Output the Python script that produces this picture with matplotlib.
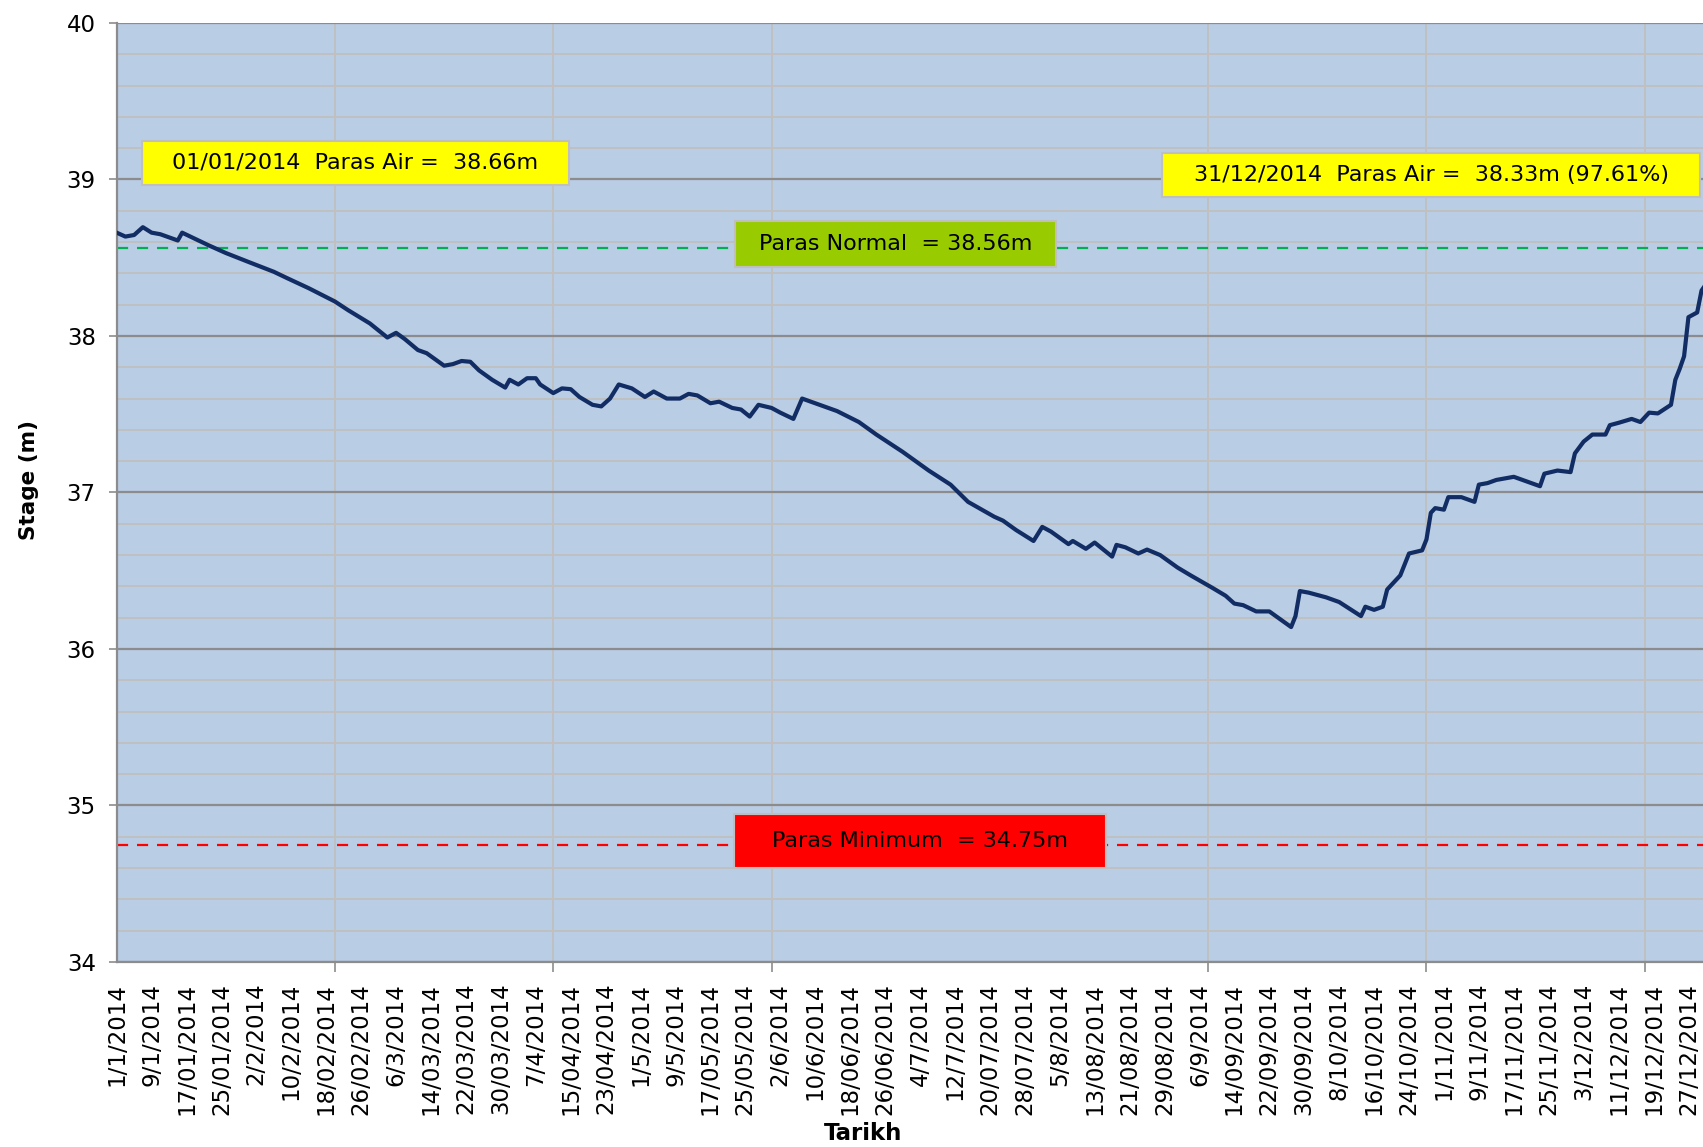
import matplotlib
matplotlib.use('Agg')
import matplotlib.pyplot as plt
import matplotlib.transforms as mtransforms
from matplotlib.patches import Rectangle
from matplotlib.ticker import MultipleLocator

# daily readings (day of year, 0 = 1/1/2014) and water stage in metres
day = [0, 2, 4, 6, 8, 10, 14, 15, 18, 21, 25, 30, 36, 39, 44, 50, 53, 58, 62, 64,
       66, 69, 71, 75, 77, 79, 81, 83, 86, 89, 90, 92, 94, 96, 97, 100, 102, 104, 106, 109,
       111, 113, 115, 118, 121, 123, 126, 129, 131, 133, 136, 138, 141, 143, 145, 147, 150, 152, 155, 157,
       160, 165, 170, 174, 180, 186, 191, 195, 201, 203, 206, 210, 212, 214, 218, 219, 222, 224, 228, 229,
       231, 234, 236, 239, 243, 246, 251, 254, 256, 258, 261, 264, 266, 269, 270, 271, 273, 277, 280, 285,
       286, 288, 290, 291, 294, 296, 299, 300, 301, 302, 304, 305, 308, 311, 312, 314, 316, 318, 320, 323,
       326, 327, 330, 333, 334, 336, 338, 341, 342, 344, 347, 349, 351, 353, 356, 357, 358, 359, 360, 362,
       363, 364]
stage = [38.66, 38.635, 38.645, 38.695, 38.66, 38.65, 38.61, 38.66, 38.62, 38.58, 38.53, 38.475, 38.41, 38.37, 38.305, 38.22, 38.165, 38.08, 37.99, 38.02,
         37.98, 37.91, 37.89, 37.81, 37.82, 37.84, 37.835, 37.78, 37.72, 37.67, 37.72, 37.69, 37.73, 37.73, 37.69, 37.635, 37.665, 37.66, 37.61, 37.56,
         37.55, 37.60, 37.69, 37.665, 37.61, 37.645, 37.60, 37.60, 37.63, 37.62, 37.57, 37.58, 37.54, 37.53, 37.485, 37.56, 37.54, 37.51, 37.47, 37.60,
         37.57, 37.52, 37.45, 37.37, 37.26, 37.14, 37.05, 36.94, 36.845, 36.82, 36.76, 36.69, 36.78, 36.75, 36.67, 36.69, 36.64, 36.68, 36.59, 36.665,
         36.65, 36.61, 36.635, 36.60, 36.52, 36.47, 36.39, 36.34, 36.29, 36.28, 36.24, 36.24, 36.20, 36.14, 36.21, 36.37, 36.36, 36.33, 36.30, 36.21,
         36.27, 36.25, 36.27, 36.38, 36.47, 36.61, 36.63, 36.70, 36.87, 36.90, 36.89, 36.97, 36.97, 36.94, 37.05, 37.06, 37.08, 37.09, 37.10, 37.07,
         37.04, 37.12, 37.14, 37.13, 37.25, 37.325, 37.37, 37.37, 37.43, 37.445, 37.47, 37.45, 37.51, 37.505, 37.56, 37.72, 37.79, 37.87, 38.12, 38.15,
         38.29, 38.33]

paras_normal = 38.56
paras_minimum = 34.75

date_labels = ['1/1/2014', '9/1/2014', '17/01/2014', '25/01/2014', '2/2/2014', '10/2/2014',
               '18/02/2014', '26/02/2014', '6/3/2014', '14/03/2014', '22/03/2014', '30/03/2014',
               '7/4/2014', '15/04/2014', '23/04/2014', '1/5/2014', '9/5/2014', '17/05/2014',
               '25/05/2014', '2/6/2014', '10/6/2014', '18/06/2014', '26/06/2014', '4/7/2014',
               '12/7/2014', '20/07/2014', '28/07/2014', '5/8/2014', '13/08/2014', '21/08/2014',
               '29/08/2014', '6/9/2014', '14/09/2014', '22/09/2014', '30/09/2014', '8/10/2014',
               '16/10/2014', '24/10/2014', '1/11/2014', '9/11/2014', '17/11/2014', '25/11/2014',
               '3/12/2014', '11/12/2014', '19/12/2014', '27/12/2014']

fig = plt.figure(figsize=(17.03, 11.47), dpi=100)
ax = fig.add_axes([0.0685, 0.1613, 0.9332, 0.8187])
ax.set_facecolor('#B9CDE5')

ax.set_xlim(0, 364)
ax.set_ylim(34, 40)

# grid: 1 m major lines, 0.2 m minor lines, a vertical line every 50 days
ax.yaxis.set_major_locator(MultipleLocator(1))
ax.yaxis.set_minor_locator(MultipleLocator(0.2))
ax.grid(which='major', axis='y', color='#8C8C8C', lw=1.6, zorder=1)
ax.grid(which='minor', axis='y', color='#C0C0C0', lw=1.4, zorder=1)

ax.set_xticks(range(0, 361, 8))
ax.set_xticklabels(date_labels, rotation=90, va='top', ha='center', fontsize=16.5)
# nudge the date labels a few pixels right
shift = mtransforms.ScaledTranslation(4 / 100, 0, fig.dpi_scale_trans)
for lbl in ax.get_xticklabels():
    lbl.set_transform(lbl.get_transform() + shift)
ax.set_xticks(range(0, 351, 50), minor=True)
ax.grid(which='minor', axis='x', color='#C0C0C0', lw=1.4, zorder=1)
ax.tick_params(axis='x', which='major', length=0, pad=15)
ax.tick_params(axis='x', which='minor', length=7, width=1.2, color='#8C8C8C', direction='out')
ax.tick_params(axis='y', which='major', length=6, width=1.2, color='#8C8C8C', labelsize=16.5, pad=9)
ax.tick_params(axis='y', which='minor', length=0)
ax.set_axisbelow(True)

for side in ['top', 'right']:
    ax.spines[side].set_visible(False)
for side in ['left', 'bottom']:
    ax.spines[side].set_color('#8C8C8C')
    ax.spines[side].set_linewidth(1.6)

# reference levels
ax.axhline(paras_normal, color='#00B050', lw=1.6, ls=(0, (5, 4)), zorder=2)
ax.axhline(paras_minimum, color='#FF0000', lw=1.6, ls=(0, (5, 4)), zorder=2)

# water level
ax.plot(day, stage, color='#112D64', lw=3.0, zorder=3, solid_joinstyle='round')


def label_box(x0, y0, x1, y1, text, face):
    '''
    draws a filled box in axes fraction coords with text centered on it
    '''
    ax.add_patch(Rectangle((x0, y0), x1 - x0, y1 - y0, transform=ax.transAxes,
                           facecolor=face, edgecolor='#BFBFBF', lw=1.5, zorder=5,
                           clip_on=False))
    ax.text((x0 + x1) / 2, (y0 + y1) / 2, text, transform=ax.transAxes,
            ha='center', va='center', fontsize=16, zorder=6)


label_box(0.0159, 0.8275, 0.2846, 0.8743,
          '01/01/2014  Paras Air =  %.2fm' % stage[0], '#FFFF00')
label_box(0.6578, 0.8147, 0.9963, 0.8616,
          '31/12/2014  Paras Air =  %.2fm (97.61%%)' % stage[-1], '#FFFF00')
label_box(0.3891, 0.7401, 0.5910, 0.7886,
          'Paras Normal  = %.2fm' % paras_normal, '#99CC00')
label_box(0.3884, 0.1001, 0.6225, 0.1571,
          'Paras Minimum  = %.2fm' % paras_minimum, '#FF0000')

# axis titles
fig.text(29 / 1703, 1 - 480 / 1147, 'Stage (m)', rotation=90, ha='center', va='center',
         fontsize=15.5, fontweight='bold')
fig.text(863 / 1703, 1 - 1133 / 1147, 'Tarikh', ha='center', va='center',
         fontsize=16.5, fontweight='bold')

fig.savefig('out.png', dpi=100)
